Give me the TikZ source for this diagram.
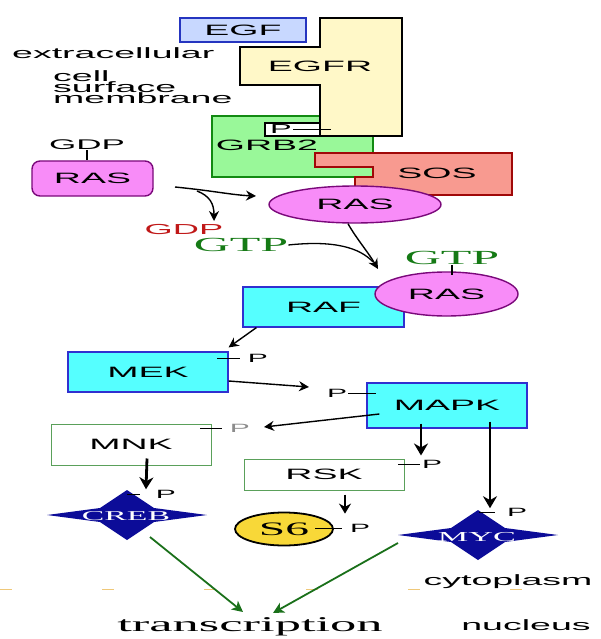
\documentclass[tikz,border=0pt]{standalone}
\usepackage{fontspec}
\setmainfont{Liberation Sans}[FakeStretch=2.5]
\newfontfamily\wideserif{Liberation Serif}[FakeStretch=2.5]
\usepackage{tikz}
\usetikzlibrary{arrows.meta,positioning,shapes.geometric}
\definecolor{egffill}{HTML}{C8D8FF}
\definecolor{egfline}{HTML}{2535C0}
\definecolor{rcptfill}{HTML}{FFF8C8}
\definecolor{grbfill}{HTML}{99F899}
\definecolor{grbline}{HTML}{128A12}
\definecolor{sosfill}{HTML}{F89A90}
\definecolor{sosline}{HTML}{A00808}
\definecolor{rasfill}{HTML}{F88CF8}
\definecolor{rasline}{HTML}{7A087A}
\definecolor{kinfill}{HTML}{55FFFF}
\definecolor{kinline}{HTML}{3030D0}
\definecolor{tgtline}{HTML}{5AA05A}
\definecolor{s6fill}{HTML}{F8D838}
\definecolor{starblue}{HTML}{0C0C98}
\definecolor{gdpred}{HTML}{C01818}
\definecolor{gtpgreen}{HTML}{157A15}
\definecolor{txgreen}{HTML}{1A701A}
\definecolor{membrane}{HTML}{E8B040}
\newcommand\labfont{\fontsize{15}{15}\selectfont}
\newcommand\pfont{\fontsize{12}{12}\selectfont}
\tikzset{
  ligand/.style ={draw=egfline,line width=1.4pt,fill=egffill,inner sep=0pt,font=\labfont},
  kinase/.style ={draw=kinline,line width=1.2pt,fill=kinfill,inner sep=0pt,font=\labfont},
  target/.style ={draw=tgtline,line width=1pt,fill=white,inner sep=0pt,font=\labfont},
  gtpase/.style ={ellipse,draw=rasline,line width=1.4pt,fill=rasfill,inner sep=0pt,font=\labfont},
  lab/.style    ={inner sep=0pt,font=\labfont},
  pmark/.style  ={inner sep=1pt,font=\pfont},
  nucl/.style   ={inner sep=0pt,font=\wideserif\fontsize{20}{20}\selectfont},
  tick/.style   ={line width=0.9pt},
  flow/.style   ={-{Stealth[length=10pt,width=10pt]},line width=1.4pt},
  push/.style   ={-{Stealth[length=12pt,width=14pt]},line width=2.8pt},
  tx/.style     ={-{Stealth[length=11pt,width=11pt,inset=3pt]},line width=1.8pt,draw=txgreen},
  sigstar/.pic  ={\fill[starblue] (-80,0) -- (-27,-7) -- (0,-25) -- (27,-7) -- (80,0)
                   -- (27,7) -- (0,25) -- (-27,7) -- cycle;}
}

\begin{document}
\begin{tikzpicture}[x=1pt,y=-1pt]
  \useasboundingbox (0,0) rectangle (600,639);
  % membrane and receptor
  \node[ligand,minimum width=126pt,minimum height=24pt] (egf) at (243,30) {EGF};
  \node[lab,anchor=base west] (extra) at (12,58.5) {extracellular};
  \node[lab,anchor=north west,align=left,
        font={\fontsize{15}{11}\selectfont\lineskiplimit=-20pt}] (memb) at (53,70)
        {cell\\surface\\membrane};
  \draw[draw=grbline,line width=1.4pt,fill=grbfill] (212,116) -- (373,116) -- (373,153)
     -- (315,153) -- (315,167) -- (373,167) -- (373,177) -- (212,177) -- cycle;
  \draw[draw=sosline,line width=1.4pt,fill=sosfill] (315,153) -- (512,153) -- (512,195)
     -- (355,195) -- (355,177) -- (373,177) -- (373,167) -- (315,167) -- cycle;
  \node[lab] (grb2) at (267,145) {GRB2};
  \node[lab] (sos) at (437,173) {SOS};
  \draw[line width=1.2pt,fill=white] (265,123) rectangle (330,136);
  \node[pmark,font=\fontsize{13}{13}\selectfont] (grbp) at (281,129.5) {P};
  \draw[line width=1.5pt,fill=rcptfill] (320,18) -- (402,18) -- (402,136) -- (320,136)
     -- (320,85) -- (240,85) -- (240,47) -- (320,47) -- cycle;
  \node[lab] (egfr) at (320,66) {EGFR};
  \draw[tick] (grbp.east) -- +(38,0);

  % RAS exchange
  \node[gtpase,rectangle,rounded corners=8pt,minimum width=121pt,minimum height=35pt]
        (rasgdp) at (92.5,178.5) {RAS};
  \node[lab,font=\fontsize{14}{14}\selectfont] (gdpl) at (87,145) {GDP};
  \draw[line width=1.4pt] (gdpl.south) -- (gdpl.south |- rasgdp.north);
  \node[gtpase,minimum width=172pt,minimum height=37pt] (rasmid) at (355,204.5) {RAS};
  \node[lab,text=gdpred,font=\fontsize{14.5}{14.5}\selectfont] (gdpr) at (184,230) {GDP};
  \node[nucl,text=gtpgreen] (gtpl) at (241,245) {GTP};
  \coordinate (xstart) at (175,187);
  \coordinate (xsplit) at (197,191);
  \coordinate (xin) at (256,196);
  \coordinate (xout) at (214,221);
  \draw[flow] (xstart) .. controls (215,191) and (232,195) .. (xin);
  \draw[flow] (xsplit) .. controls (210,196) and (214,204) .. (xout);

  % active RAS and RAF
  \node[kinase,minimum width=161pt,minimum height=40pt] (raf) at (323.5,307) {RAF};
  \node[gtpase,minimum width=143pt,minimum height=44pt] (rasgtp) at (446.5,294) {RAS};
  \node[nucl,text=gtpgreen] (gtpr) at (452,258) {GTP};
  \draw[line width=1.4pt] (gtpr.south) -- ++(0,10);
  \coordinate (gtpin) at (378,269);
  \draw[flow] ([xshift=-7pt]rasmid.south) .. controls (356,238) and (368,252) .. (gtpin);
  \draw[line width=1.3pt] (gtpl.east) .. controls (335,240) and (360,248) .. (373,262);

  % MAPK cascade
  \node[kinase,minimum width=160pt,minimum height=40pt] (mek) at (148,372) {MEK};
  \node[pmark] (mekp) at (258,358) {P};
  \draw[tick] (mekp.west) ++(-7,0) -- ++(-23,0);
  \draw[flow] ([xshift=14pt]raf.south west) -- ([yshift=4pt]mek.north east);
  \node[kinase,minimum width=160pt,minimum height=45pt] (mapk) at (447,405.5) {MAPK};
  \node[pmark] (mapkp) at (337,393) {P};
  \draw[tick] (mapkp.east) -- +(28,0);
  \coordinate (mapkin) at (309,387);
  \draw[flow] ([yshift=-9pt]mek.east) -- (mapkin);

  % MAPK targets
  \node[target,minimum width=160pt,minimum height=41pt] (mnk) at (131,444.5) {MNK};
  \node[pmark,text=black!45] (mnkp) at (240,428) {P};
  \draw[tick] (mnkp.west) ++(-7,0) -- ++(-22,0);
  \coordinate (mnkin) at (264,427);
  \draw[flow] ([xshift=13pt,yshift=-8.5pt]mapk.west) -- (mnkin);
  \node[target,minimum width=160pt,minimum height=31pt] (rsk) at (324,474.5) {RSK};
  \node[pmark] (rskp) at (432,464) {P};
  \draw[tick] (rskp.west) ++(-1,0) -- ++(-22,0);
  \draw[push] ([xshift=-26pt,yshift=5pt]mapk.south) -- ([xshift=97pt,yshift=3pt]rsk.north);
  \pic at (127,515) {sigstar};
  \node[inner sep=0pt,text=white,font=\wideserif\fontsize{13.5}{13.5}\selectfont] (creb) at (126,516) {CREB};
  \node[pmark] (crebp) at (166,494) {P};
  \draw[tick] (crebp.west) ++(-15,0) -- ++(-13,0);
  \draw[push] ([xshift=16pt,yshift=7pt]mnk.south) -- ([xshift=20pt,yshift=22pt]creb.north);
  \node[ellipse,draw,line width=1.8pt,fill=s6fill,inner sep=0pt,minimum width=98pt,
        minimum height=33pt,font=\wideserif\fontsize{19}{19}\selectfont] (s6) at (284,529) {S6};
  \node[pmark] (s6p) at (360,528) {P};
  \draw[tick] (s6p.west) ++(-7,0) -- ++(-27,0);
  \draw[push,line width=1.8pt,-{Stealth[length=10pt,width=12pt]}] ([xshift=21pt,yshift=-4pt]rsk.south) -- ([xshift=61pt,yshift=-2pt]s6.north);
  \pic at (478,535) {sigstar};
  \node[inner sep=0pt,text=white,font=\wideserif\fontsize{13.7}{13.7}\selectfont] (myc) at (477,537) {MYC};
  \node[pmark] (mycp) at (517,512) {P};
  \draw[tick] (mycp.west) ++(-11,0) -- ++(-16,0);
  \draw[push] ([xshift=43pt,yshift=7pt]mapk.south) -- ([xshift=13pt,yshift=24pt]myc.north);

  % nucleus
  \draw[membrane!70,line width=0.8pt,dash pattern=on 12pt off 90pt] (0,589) -- (600,589);
  \node[lab,anchor=base] (cyto) at (508,585) {cytoplasm};
  \node[lab,anchor=base] (nuc) at (526,630) {nucleus};
  \node[nucl,anchor=base,font=\wideserif\fontsize{21}{21}\selectfont] (transc) at (250,631) {transcription};
  \coordinate (txl) at (243,612);
  \coordinate (txr) at (273,613);
  \draw[tx] (150,537) -- (txl);
  \draw[tx] (398,543) -- (txr);
\end{tikzpicture}
\end{document}
